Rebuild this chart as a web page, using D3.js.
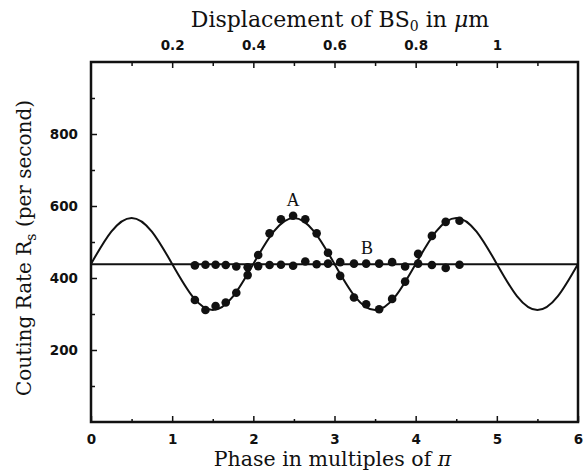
<!DOCTYPE html>
<html><head><meta charset="utf-8">
<script src="https://cdn.jsdelivr.net/npm/d3@7"></script>
<style>body{margin:0;background:#fff}svg{display:block}</style>
</head><body>
<script>
// Fitted curve, phase in multiples of pi
const curvePhase = [0,0.25,0.5,0.75,1,1.25,1.5,1.75,2,2.25,2.5,2.75,3,3.25,3.5,3.75,4,4.25,4.5,4.75,5,5.25,5.5,5.75,6];
const curveRate  = [439,529,567,529,439,349,311,349,439,529,567,529,439,349,311,349,439,529,567,529,439,349,311,349,439];
// Baseline (horizontal line)
const baseRate = 438;
// Measured points
const measPhase = [1.28,1.41,1.535,1.66,1.79,1.93,2.06,2.20,2.34,2.49,2.64,2.78,2.92,3.07,3.24,3.39,3.55,3.71,3.87,4.03,4.20,4.37,4.54];
const rateA = [339,311,322,332,359,408,464,524,563,573,563,524,470,406,346,327,313,342,390,467,517,556,559];
const rateB = [435,437,437,436,432,430,433,436,437,434,446,438,440,444,440,440,440,444,432,440,436,428,437];
// Axis ticks
const xTicks = [0,1,2,3,4,5,6];
const yTicks = [200,400,600,800];
const topTicks = [0.2,0.4,0.6,0.8,1];

(function(){
const W = 583, H = 470;
const m = {l:91, r:5, t:62, b:48};
const svg = d3.select("body").append("svg").attr("width", W).attr("height", H);
const x = d3.scaleLinear().domain([0,6]).range([m.l, W-m.r]);
const xTop = d3.scaleLinear().domain([0,1.2]).range([m.l, W-m.r]);
const y = d3.scaleLinear().domain([0,1000]).range([H-m.b, m.t]);

svg.append("clipPath").attr("id","clip").append("rect")
  .attr("x", m.l).attr("y", m.t).attr("width", W-m.l-m.r).attr("height", H-m.t-m.b);

const tickFont = "'DejaVu Sans', sans-serif";
const g = svg.append("g");

// Bottom axis (ticks inward)
const bottomAxis = d3.axisBottom(x).tickValues(d3.range(0,6.01,0.5)).tickSize(-6)
  .tickFormat(d => xTicks.includes(d) ? d3.format("d")(d) : "");
const gb = g.append("g").attr("transform", `translate(0,${H-m.b})`).call(bottomAxis);
gb.selectAll(".tick line").attr("y2", d => Number.isInteger(d) ? -6 : -3).attr("stroke-width", 1.5);
gb.selectAll(".tick text").attr("y", 12);

// Left axis
const leftAxis = d3.axisLeft(y).tickValues(d3.range(100,1000,100)).tickSize(-6)
  .tickFormat(d => yTicks.includes(d) ? d : "");
const gl = g.append("g").attr("transform", `translate(${m.l},0)`).call(leftAxis);
gl.selectAll(".tick line").attr("x2", d => yTicks.includes(d) ? 6 : 4).attr("stroke-width", 1.5);
gl.selectAll(".tick text").attr("x", -13);

// Top axis
const topAxis = d3.axisTop(xTop).tickValues(d3.range(0.1,1.15,0.1)).tickSize(-6)
  .tickFormat(d => { const r = Math.round(d*10)/10; return topTicks.includes(r) ? d3.format("~g")(r) : ""; });
const gt = g.append("g").attr("transform", `translate(0,${m.t})`).call(topAxis);
gt.selectAll(".tick line").attr("y2", d => topTicks.includes(Math.round(d*10)/10) ? 6 : 4).attr("stroke-width", 1.5);
gt.selectAll(".tick text").attr("y", -12);

[gb, gl, gt].forEach(a => {
  a.select(".domain").remove();
  a.selectAll(".tick text").attr("font-family", tickFont).attr("font-weight", "bold")
    .attr("font-size", 13.5).attr("fill", "#111");
  a.selectAll(".tick line").attr("stroke", "#111");
});

// Frame
svg.append("rect").attr("x", m.l).attr("y", m.t).attr("width", W-m.l-m.r).attr("height", H-m.t-m.b)
  .attr("fill", "none").attr("stroke", "#111").attr("stroke-width", 2.5);

const plot = svg.append("g").attr("clip-path", "url(#clip)");
// Baseline
plot.append("line").attr("x1", x(0)).attr("x2", x(6)).attr("y1", y(baseRate)).attr("y2", y(baseRate))
  .attr("stroke", "#111").attr("stroke-width", 2);
// Curve
const line = d3.line().x(d => x(d[0])).y(d => y(d[1])).curve(d3.curveNatural);
plot.append("path").datum(curvePhase.map((p,i) => [p, curveRate[i]]))
  .attr("d", line).attr("fill", "none").attr("stroke", "#111").attr("stroke-width", 2);

// Points
plot.selectAll("circle.a").data(measPhase.map((p,i) => [p, rateA[i]])).join("circle")
  .attr("class","a").attr("cx", d => x(d[0])).attr("cy", d => y(d[1])).attr("r", 4.3).attr("fill", "#111");
plot.selectAll("circle.b").data(measPhase.map((p,i) => [p, rateB[i]])).join("circle")
  .attr("class","b").attr("cx", d => x(d[0])).attr("cy", d => y(d[1])).attr("r", 4.3).attr("fill", "#111");

// Labels A and B
svg.append("text").attr("x", x(2.49)).attr("y", y(600)).attr("text-anchor","middle")
  .attr("font-family", "'Liberation Serif', serif").attr("font-size", 18).attr("fill","#111").text("A");
svg.append("text").attr("x", x(3.4)).attr("y", y(468)).attr("text-anchor","middle")
  .attr("font-family", "'Liberation Serif', serif").attr("font-size", 18).attr("fill","#111").text("B");

// Axis titles
const serif = "'DejaVu Serif', serif";
const xt = svg.append("text").attr("x", (m.l + W - m.r)/2 - 2).attr("y", 466).attr("text-anchor","middle")
  .attr("font-family", serif).attr("font-size", 20.5).attr("fill","#111");
xt.append("tspan").text("Phase in multiples of ");
xt.append("tspan").attr("font-style","italic").text("π");

const tt = svg.append("text").attr("x", 340).attr("y", 27).attr("text-anchor","middle")
  .attr("font-family", serif).attr("font-size", 22).attr("fill","#111");
tt.append("tspan").text("Displacement of BS");
tt.append("tspan").attr("dy", 4).attr("font-size", 14).text("0");
tt.append("tspan").attr("dy", -4).text(" in ");
tt.append("tspan").attr("font-style","italic").text("μ");
tt.append("tspan").text("m");

const yt = svg.append("text").attr("transform", "translate(31,248) rotate(-90)").attr("text-anchor","middle")
  .attr("font-family", serif).attr("font-size", 20).attr("fill","#111");
yt.append("tspan").text("Couting Rate R");
yt.append("tspan").attr("dy", 5).attr("font-size", 14).text("s");
yt.append("tspan").attr("dy", -5).text(" (per second)");
})();
</script>
</body></html>
